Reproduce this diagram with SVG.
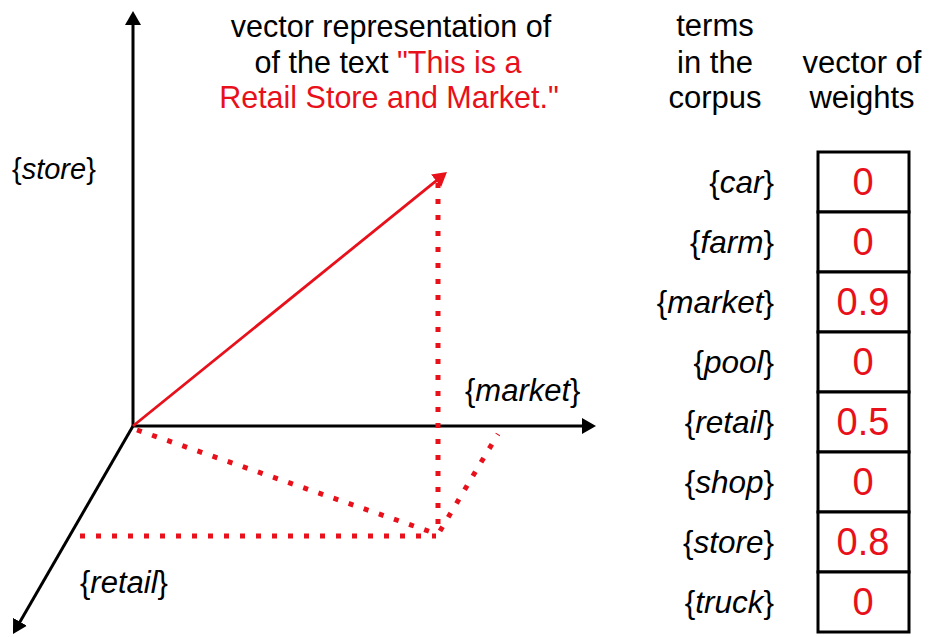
<svg xmlns="http://www.w3.org/2000/svg" width="930" height="637" viewBox="0 0 930 637">
<defs>
<marker id="ahk" markerUnits="userSpaceOnUse" markerWidth="16" markerHeight="16" refX="4" refY="8" orient="auto"><path d="M0,0 L14,8 L0,16 z" fill="#000"/></marker>
<marker id="ahr" markerUnits="userSpaceOnUse" markerWidth="16" markerHeight="16" refX="4" refY="8" orient="auto"><path d="M0,0 L14,8 L0,16 z" fill="#e8101a"/></marker>
<style>
text{font-family:"Liberation Sans",Arial,sans-serif;}
.h{font-size:31px;fill:#000;text-anchor:middle;}
.ttl{font-size:30.5px;}
.red{fill:#e8101a;}
.t{font-size:31.5px;fill:#000;text-anchor:end;}
.lab{font-size:31px;fill:#000;}
.i{font-style:italic;}
.v{font-size:38px;fill:#e8101a;text-anchor:middle;}
.axis{stroke:#000;stroke-width:3;fill:none;}
.vec{stroke:#e8101a;stroke-width:2.8;fill:none;}
.dot{stroke:#e8101a;stroke-width:5;fill:none;stroke-dasharray:5 11;}
.cell{fill:#fff;stroke:#000;stroke-width:3;}
</style>
</defs>
<rect width="930" height="637" fill="#fff"/>
<g id="connectors">
<line class="axis" x1="133" y1="426" x2="133" y2="21" marker-end="url(#ahk)"/>
<line class="axis" x1="133" y1="426" x2="586" y2="426" marker-end="url(#ahk)"/>
<line class="axis" x1="133" y1="426" x2="18" y2="625.3" marker-end="url(#ahk)"/>
<line class="vec" x1="133" y1="426" x2="439.2" y2="178.3" marker-end="url(#ahr)"/>
<line class="dot" x1="438" y1="183" x2="438" y2="535"/>
<line class="dot" x1="137" y1="430" x2="434" y2="533"/>
<line class="dot" x1="80" y1="536" x2="436" y2="536"/>
<line class="dot" x1="440" y1="531" x2="498" y2="434"/>
</g>
<g id="title">
<text class="h ttl" x="391" y="37">vector representation of</text>
<text class="h ttl" x="388" y="73">of the text <tspan class="red">"This is a</tspan></text>
<text class="h ttl red" x="389" y="108">Retail Store and Market."</text>
</g>
<g id="axis-labels">
<text class="lab" x="12" y="179" style="font-size:29px">{<tspan class="i">store</tspan>}</text>
<text class="lab" x="465" y="401">{<tspan class="i">market</tspan>}</text>
<text class="lab" x="80" y="593">{<tspan class="i">retail</tspan>}</text>
</g>
<g id="headers">
<text class="h" x="715" y="36">terms</text>
<text class="h" x="715" y="73">in the</text>
<text class="h" x="715" y="108">corpus</text>
<text class="h" x="862" y="73">vector of</text>
<text class="h" x="862" y="108">weights</text>
</g>
<g id="terms">
<text class="t" x="774" y="193">{<tspan class="i">car</tspan>}</text>
<text class="t" x="774" y="253">{<tspan class="i">farm</tspan>}</text>
<text class="t" x="774" y="313">{<tspan class="i">market</tspan>}</text>
<text class="t" x="774" y="373">{<tspan class="i">pool</tspan>}</text>
<text class="t" x="774" y="433">{<tspan class="i">retail</tspan>}</text>
<text class="t" x="774" y="493">{<tspan class="i">shop</tspan>}</text>
<text class="t" x="774" y="553">{<tspan class="i">store</tspan>}</text>
<text class="t" x="774" y="613">{<tspan class="i">truck</tspan>}</text>
</g>
<g id="weights">
<rect class="cell" x="818" y="152" width="91" height="60"/>
<rect class="cell" x="818" y="212" width="91" height="60"/>
<rect class="cell" x="818" y="272" width="91" height="60"/>
<rect class="cell" x="818" y="332" width="91" height="60"/>
<rect class="cell" x="818" y="392" width="91" height="60"/>
<rect class="cell" x="818" y="452" width="91" height="60"/>
<rect class="cell" x="818" y="512" width="91" height="60"/>
<rect class="cell" x="818" y="572" width="91" height="60"/>
<text class="v" x="863" y="195">0</text>
<text class="v" x="863" y="255">0</text>
<text class="v" x="863" y="315">0.9</text>
<text class="v" x="863" y="375">0</text>
<text class="v" x="863" y="435">0.5</text>
<text class="v" x="863" y="495">0</text>
<text class="v" x="863" y="555">0.8</text>
<text class="v" x="863" y="615">0</text>
</g>
</svg>
